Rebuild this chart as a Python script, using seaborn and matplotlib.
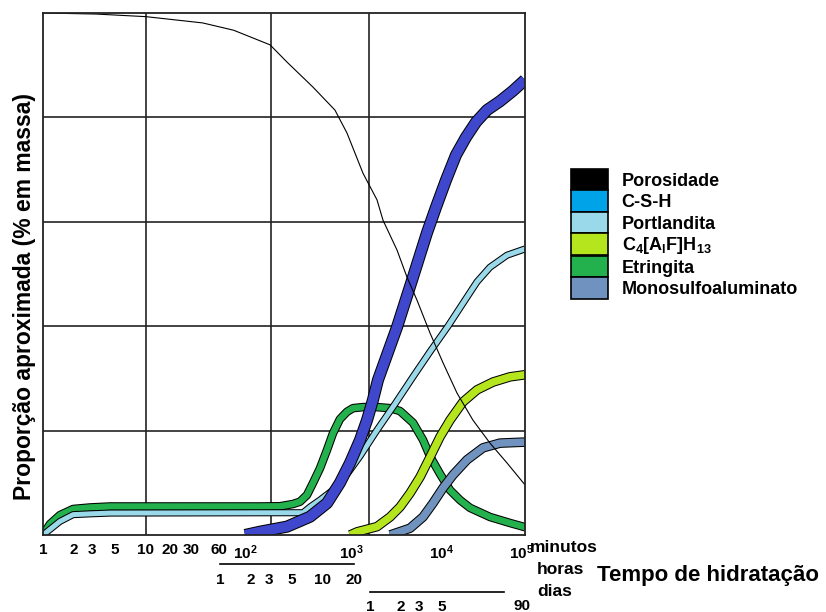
import numpy as np
import matplotlib
matplotlib.use("Agg")
import matplotlib.pyplot as plt
import matplotlib.patheffects as pe
import matplotlib.transforms as mtransforms
from matplotlib.patches import Patch
import seaborn as sns

# ---- data: hydration time in minutes, phase content in % by mass ----
poro_t = [1, 3.27, 10, 40, 80, 176, 258, 464, 762, 1000, 1520, 2193, 2566,
          3698, 4805, 6240, 8770, 12270, 17550, 26400, 40840, 63100, 100000]
poro_v = [100, 99.8, 99.3, 98.1, 96.7, 93.9, 90.6, 85.8, 81.4, 77.0, 69.3, 64.2,
          60.3, 54.6, 49.4, 45.0, 38.7, 33.0, 27.2, 22.0, 17.6, 13.8, 9.6]

etr_t = [1, 1.17, 1.46, 1.96, 2.86, 4.47, 140, 220, 296, 346, 405, 464, 544,
         637, 729, 853, 1000, 1170, 1520, 1973, 2193, 3085, 4000, 5623, 7310,
         8770, 11370, 14680, 18960, 24490, 40840, 68130, 100000]
etr_v = [0, 2.1, 3.8, 4.98, 5.27, 5.46, 5.46, 5.5, 5.94, 6.38, 7.66, 9.96, 12.8,
         16.3, 19.5, 22.2, 23.6, 24.3, 24.5, 24.5, 24.5, 24.3, 23.75, 21.5, 18.2,
         15.1, 11.7, 8.6, 6.7, 5.2, 3.45, 2.3, 1.5]

port_t = [1, 1.46, 1.96, 2.86, 4.47, 371, 434, 544, 729, 1026, 1405, 2193,
          3510, 5623, 8770, 13940, 20460, 29300, 40840, 63100, 100000]
port_v = [0, 2.6, 3.9, 4.05, 4.2, 4.27, 5.36, 6.7, 8.6, 11.9, 15.1, 20.1,
          25.1, 30.3, 35.1, 40.0, 44.4, 48.5, 51.3, 53.6, 54.8]

csh_t = [100, 140, 258, 434, 637, 853, 1082, 1405, 1688, 1973, 2249, 3698,
         5623, 8110, 10260, 13250, 17110, 22090, 28560, 37840, 52750, 73560,
         100000]
csh_v = [0, 0.63, 1.6, 3.5, 6.1, 10.0, 13.8, 18.2, 22.0, 25.9, 29.7, 39.8,
         49.4, 57.9, 62.8, 68.0, 72.8, 76.2, 79.1, 81.4, 83.1, 85.1, 87.2]

c4_t = [1082, 1300, 2193, 3085, 4000, 5200, 6760, 8770, 11370, 14680, 20460,
        29300, 44100, 68100, 100000]
c4_v = [0, 0.6, 1.6, 3.45, 5.36, 8.0, 11.1, 14.9, 18.8, 22.0, 25.5, 27.8,
        29.3, 30.3, 30.7]

mono_t = [3085, 5200, 7310, 9490, 12270, 15850, 22680, 34150, 52700, 100000]
mono_v = [0, 1.3, 3.45, 6.1, 9.0, 11.5, 14.4, 16.7, 17.6, 17.8]

legend_labels = ["Porosidade", "C-S-H", "Portlandita",
                 r"C$_4$[A$_l$F]H$_{13}$", "Etringita", "Monosulfoaluminato"]
legend_colors = ["#000000", "#00a2e8", "#99d9ea", "#b5e61d", "#22b14c", "#7092be"]
csh_band_color = "#3f48cc"

min_ticks = [1, 2, 3, 5, 10, 20, 30, 60, 100, 1000, 10000, 100000]
min_labels = ["1", "2", "3", "5", "10", "20", "30", "60",
              r"10$^2$", r"10$^3$", r"10$^4$", r"10$^5$"]
hour_ticks = [1, 2, 3, 5, 10, 20]
hour_labels = ["1", "2", "3", "5", "10", "20"]
day_ticks = [1, 2, 3, 5, 10, 20]
day_labels = ["1", "2", "3", "5", "", ""]
vgrid_min = [10, 180, 1800]
hgrid_pct = [20, 40, 60, 80]

# ---- hand-drawn time axis: piecewise logarithmic ----
_anchor_t = np.log10([1, 10, 20, 30, 60, 100, 1000, 1e4, 1e5])
_anchor_p = np.array([0, 103, 127.5, 148, 176, 202, 304, 392, 482], float)


def _fwd(x):
    lx = np.log10(np.clip(np.asarray(x, float), 1e-6, None))
    out = np.interp(lx, _anchor_t, _anchor_p)
    out = np.where(lx < _anchor_t[0], _anchor_p[0] + (lx - _anchor_t[0]) * 103, out)
    out = np.where(lx > _anchor_t[-1], _anchor_p[-1] + (lx - _anchor_t[-1]) * 90, out)
    return out


def _inv(p):
    p = np.asarray(p, float)
    lx = np.interp(p, _anchor_p, _anchor_t)
    lx = np.where(p < _anchor_p[0], _anchor_t[0] + (p - _anchor_p[0]) / 103, lx)
    lx = np.where(p > _anchor_p[-1], _anchor_t[-1] + (p - _anchor_p[-1]) / 90, lx)
    return 10 ** lx


sns.set_style("white")
plt.rcParams.update({
    "font.family": ["Liberation Sans", "DejaVu Sans"],
    "font.weight": "bold",
    "text.color": "black",
    "xtick.color": "black",
    "xtick.labelcolor": "black",
    "mathtext.fontset": "custom",
    "mathtext.rm": "Liberation Sans:bold",
    "mathtext.it": "Liberation Sans:bold",
    "mathtext.bf": "Liberation Sans:bold",
    "mathtext.default": "rm",
})

W, H = 826, 612
fig = plt.figure(figsize=(W / 100, H / 100), dpi=100)
ax = fig.add_axes([43 / W, 1 - 535 / H, 482 / W, 522 / H])
ax.set_xscale("function", functions=(_fwd, _inv))
ax.set_xlim(1, 1e5)
ax.set_ylim(0, 100)

GRID = "#222222"
for v in vgrid_min:
    ax.axvline(v, color=GRID, lw=1.2, zorder=1)
for v in hgrid_pct:
    ax.axhline(v, color=GRID, lw=1.2, zorder=1)


def band(t, v, color, px, z):
    inner = px * 0.72
    sns.lineplot(x=t, y=v, ax=ax, color=color, linewidth=inner,
                 estimator=None, sort=False, legend=False,
                 solid_capstyle="butt", solid_joinstyle="round", zorder=z,
                 path_effects=[pe.Stroke(linewidth=inner + 1.5, foreground="black"),
                               pe.Normal()])


band(etr_t, etr_v, legend_colors[4], 6.5, 3)
band(port_t, port_v, legend_colors[2], 5, 4)
band(csh_t, csh_v, csh_band_color, 10, 5)
band(c4_t, c4_v, legend_colors[3], 7.5, 6)
band(mono_t, mono_v, legend_colors[5], 7.5, 7)
sns.lineplot(x=poro_t, y=poro_v, ax=ax, color="black", linewidth=0.8,
             estimator=None, sort=False, legend=False, zorder=8)

for s in ax.spines.values():
    s.set_color(GRID)
    s.set_linewidth(1.3)
    s.set_zorder(9)
ax.set_yticks([])
ax.set_xticks(min_ticks)
ax.set_xticklabels(min_labels)
ax.xaxis.set_minor_locator(matplotlib.ticker.NullLocator())
ax.tick_params(axis="x", direction="out", length=4, width=1, color=GRID,
               pad=2, labelsize=11)
# nudge the power-of-ten labels the way they are typeset
for lbl, dx in zip(ax.get_xticklabels()[-3:], (4, 6, -4)):
    lbl.set_transform(lbl.get_transform() +
                      mtransforms.ScaledTranslation(dx / 100, 0, fig.dpi_scale_trans))
ax.set_xlabel("")
ax.set_ylabel("")

fig.text(25 / W, 1 - 296 / H, "Proporção aproximada (% em massa)",
         rotation=90, ha="center", va="center", fontsize=16.5, fontweight="bold")


def ruler(x0, x1, y, ticks, labels, pad):
    a = fig.add_axes([x0 / W, 1 - y / H, (x1 - x0) / W, 0.0001])
    a.set_xscale("log")
    a.set_xlim(ticks[0], ticks[-1])
    a.patch.set_alpha(0)
    for k in ("left", "right", "top"):
        a.spines[k].set_visible(False)
    a.spines["bottom"].set_linewidth(1.2)
    a.spines["bottom"].set_color("black")
    a.set_yticks([])
    a.set_xticks(ticks)
    a.set_xticklabels(labels)
    a.xaxis.set_minor_locator(matplotlib.ticker.NullLocator())
    a.tick_params(axis="x", direction="inout", length=6, width=1,
                  pad=pad, labelsize=11)
    return a


ruler(220, 354, 564, hour_ticks, hour_labels, 3.5)
ad = ruler(370, 504, 592, day_ticks, day_labels, 2.5)
ad.annotate("90", xy=(1, 0), xycoords="axes fraction", xytext=(18, -14),
            textcoords="offset pixels", ha="center", va="center",
            fontsize=11, fontweight="bold")

fig.text(530 / W, 1 - 548 / H, "minutos", ha="left", va="center", fontsize=12.5)
fig.text(537 / W, 1 - 569 / H, "horas", ha="left", va="center", fontsize=12.5)
fig.text(537 / W, 1 - 591 / H, "dias", ha="left", va="center", fontsize=12.5)
fig.text(597 / W, 1 - 576 / H, "Tempo de hidratação", ha="left", va="center",
         fontsize=16)

handles = [Patch(facecolor=c, edgecolor="black", linewidth=1.2, label=l)
           for c, l in zip(legend_colors, legend_labels)]
fig.legend(handles=handles, loc="upper left",
           bbox_to_anchor=(571 / W, 1 - 169 / H), bbox_transform=fig.transFigure,
           frameon=False, fontsize=13, handlelength=2.05, handleheight=1.45,
           labelspacing=0.0, handletextpad=0.75, borderpad=0, borderaxespad=0)

fig.savefig("out.png", dpi=100)
